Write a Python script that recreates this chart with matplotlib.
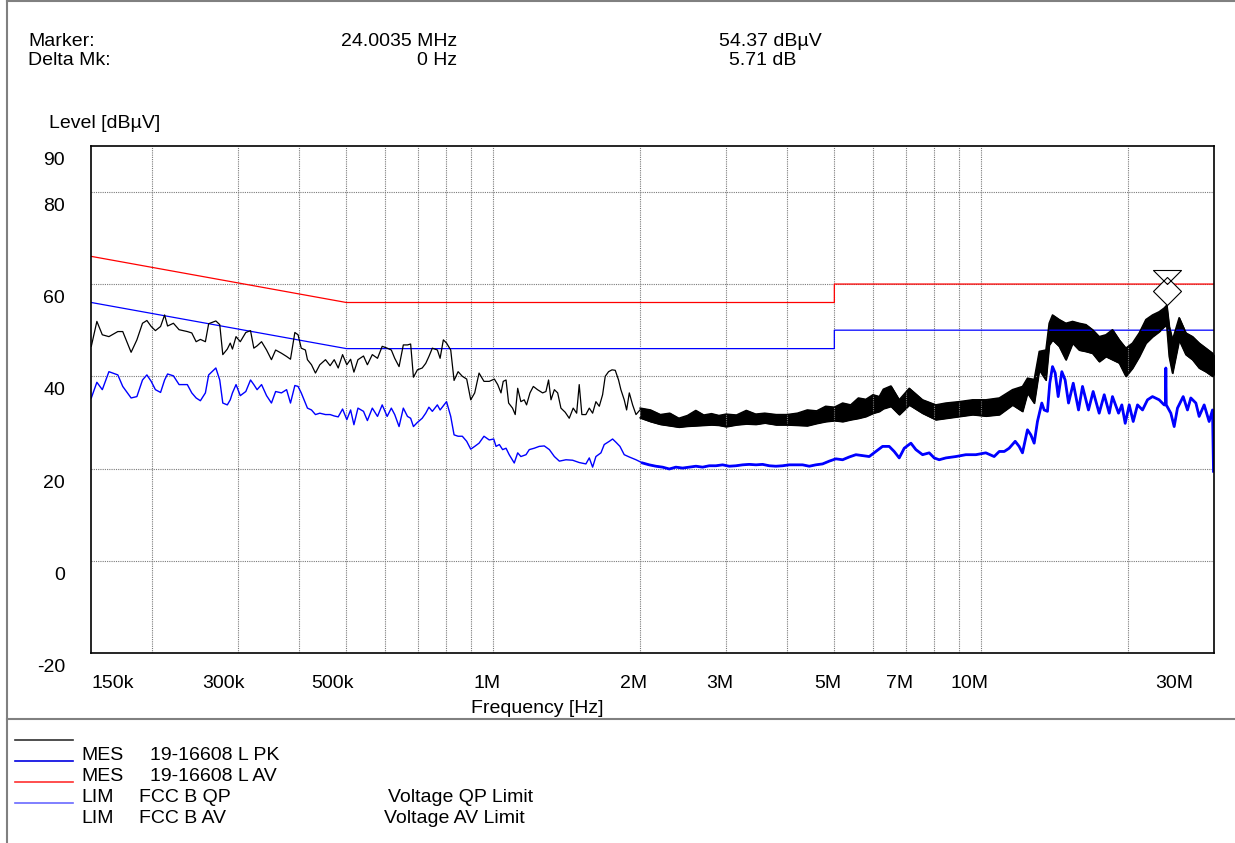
import matplotlib
matplotlib.use('Agg')
import matplotlib.pyplot as plt
from matplotlib.path import Path
from matplotlib.lines import Line2D
from matplotlib.ticker import NullLocator
from matplotlib.transforms import ScaledTranslation, blended_transform_factory

plt.rcParams['font.family'] = ['Liberation Sans', 'DejaVu Sans']
plt.rcParams['font.size'] = 14

# ---- data (frequency in MHz, level in dBuV) ----
marker_freq = 24.0035
marker_level = 54.37
marker_peak = 55.4
delta_hz = 0
delta_db = 5.71

qp_f = [0.15, 0.5, 5, 5, 30]
qp_lim = [66, 56, 56, 60, 60]
av_f = [0.15, 0.5, 5, 5, 30]
av_lim = [56, 46, 46, 50, 50]

# peak trace, sparse part (150 kHz - 2 MHz)
pk_f = [0.150, 0.154, 0.158, 0.163, 0.170, 0.174, 0.181, 0.186, 0.191, 0.195,
        0.199, 0.203, 0.208, 0.212, 0.215, 0.221, 0.227, 0.236, 0.241, 0.246,
        0.251, 0.257, 0.261, 0.270, 0.275, 0.279, 0.285, 0.289, 0.292, 0.297,
        0.303, 0.311, 0.318, 0.323, 0.328, 0.335, 0.343, 0.351, 0.358, 0.368,
        0.377, 0.384, 0.392, 0.398, 0.404, 0.412, 0.416, 0.424, 0.432, 0.441,
        0.453, 0.463, 0.472, 0.481, 0.491, 0.501, 0.510, 0.518, 0.528, 0.542,
        0.552, 0.565, 0.579, 0.592, 0.606, 0.618, 0.628, 0.641, 0.654, 0.667,
        0.677, 0.686, 0.699, 0.715, 0.727, 0.738, 0.750, 0.768, 0.778, 0.790,
        0.802, 0.818, 0.831, 0.847, 0.864, 0.882, 0.899, 0.916, 0.935, 0.957,
        0.981, 1.005, 1.021, 1.037, 1.048, 1.062, 1.075, 1.095, 1.109, 1.122,
        1.139, 1.157, 1.170, 1.189, 1.208, 1.232, 1.262, 1.282, 1.298, 1.313,
        1.334, 1.355, 1.376, 1.404, 1.431, 1.458, 1.482, 1.500, 1.519, 1.548,
        1.573, 1.598, 1.623, 1.649, 1.675, 1.696, 1.723, 1.751, 1.778, 1.806,
        1.826, 1.855, 1.876, 1.900, 1.930, 1.961, 1.998]
pk = [46.5, 51.9, 49.0, 48.6, 49.7, 49.7, 45.2, 47.9, 51.5, 52.1,
      50.8, 49.9, 50.8, 53.3, 50.9, 51.5, 50.1, 49.7, 49.4, 47.5,
      48.0, 47.5, 51.4, 52.0, 51.2, 44.7, 45.9, 47.2, 45.9, 48.6,
      47.5, 49.5, 49.9, 46.1, 46.6, 47.5, 45.7, 43.6, 45.7, 45.0,
      44.3, 43.7, 49.5, 49.0, 46.1, 45.7, 43.6, 42.5, 40.7, 42.5,
      43.6, 42.3, 43.6, 41.8, 44.7, 42.5, 43.7, 40.9, 43.6, 44.4,
      42.5, 44.7, 43.9, 46.5, 46.1, 45.7, 43.9, 42.1, 46.8, 46.8,
      47.0, 39.8, 41.4, 41.8, 42.8, 44.3, 46.1, 45.7, 43.9, 47.9,
      47.2, 45.7, 39.1, 41.0, 40.0, 39.4, 34.9, 36.4, 40.7, 38.9,
      38.9, 39.4, 38.2, 36.4, 38.9, 39.2, 34.2, 33.1, 31.7, 37.4,
      34.5, 34.9, 33.8, 36.4, 37.8, 37.1, 36.4, 36.7, 39.2, 34.9,
      37.1, 36.4, 33.1, 32.2, 30.9, 33.1, 32.0, 38.2, 31.7, 31.7,
      33.1, 32.0, 34.5, 33.5, 36.0, 40.0, 41.0, 41.4, 41.3, 39.2,
      37.1, 34.9, 32.7, 36.4, 33.8, 31.7, 32.7]

# peak trace, dense part (2 - 30 MHz): lower / upper edge of the noise band
band_f = [2.0, 2.1, 2.2, 2.3, 2.4, 2.5, 2.6, 2.7, 2.8, 2.9,
          3.0, 3.15, 3.3, 3.45, 3.6, 3.8, 4.0, 4.2, 4.4, 4.6,
          4.8, 5.0, 5.2, 5.4, 5.6, 5.8, 6.0, 6.18, 6.3, 6.53,
          6.79, 7.12, 7.58, 8.07, 8.46, 9.01, 9.60, 10.22, 10.89, 11.59,
          12.15, 12.44, 12.84, 13.15, 13.57, 13.78, 14.00, 14.45, 14.91, 15.39,
          15.88, 16.39, 16.91, 17.45, 18.01, 18.58, 19.18, 19.79, 20.42, 21.08,
          21.75, 22.44, 23.16, 23.71, 24.00, 24.28, 24.66, 25.45, 26.27, 27.11,
          27.97, 28.87, 29.79, 30.0]
band_hi = [33.1, 32.7, 31.7, 32.0, 30.9, 31.5, 32.6, 31.6, 31.9, 31.5,
           31.8, 31.6, 32.6, 31.8, 32.0, 31.7, 31.7, 32.0, 32.7, 32.5,
           33.5, 33.3, 34.2, 33.8, 35.3, 35.0, 36.0, 35.6, 37.2, 37.9,
           34.9, 37.4, 34.9, 33.8, 34.2, 34.5, 34.9, 34.9, 35.3, 37.1,
           37.8, 39.6, 39.3, 45.4, 45.7, 51.5, 53.3, 52.3, 51.5, 51.9,
           51.5, 51.2, 50.1, 48.6, 49.0, 50.1, 47.9, 46.1, 47.2, 49.4,
           52.3, 53.3, 54.0, 54.8, 55.4, 50.8, 47.9, 52.7, 49.4, 48.6,
           47.2, 46.1, 45.0, 44.5]
band_lo = [31.0, 30.2, 29.6, 29.3, 29.0, 29.2, 29.3, 29.4, 29.5, 29.4,
           29.1, 29.5, 29.7, 29.6, 29.9, 29.5, 29.5, 29.4, 29.3, 29.8,
           30.2, 30.4, 30.2, 30.6, 30.9, 31.3, 32.0, 32.4, 33.0, 33.5,
           31.7, 33.8, 32.0, 30.6, 30.9, 31.3, 31.7, 31.4, 31.7, 33.8,
           32.4, 36.4, 34.2, 41.4, 39.2, 46.8, 47.9, 46.5, 43.6, 47.2,
           45.7, 45.4, 45.0, 43.2, 44.3, 43.6, 42.9, 40.0, 41.8, 44.3,
           47.2, 48.6, 49.7, 50.8, 51.0, 44.3, 40.7, 47.9, 44.7, 43.6,
           41.8, 41.0, 40.0, 40.5]

# average trace
avg_f = [0.150, 0.154, 0.158, 0.163, 0.170, 0.174, 0.181, 0.186, 0.191, 0.195,
         0.199, 0.203, 0.208, 0.212, 0.215, 0.221, 0.227, 0.236, 0.241, 0.246,
         0.251, 0.257, 0.261, 0.270, 0.275, 0.279, 0.285, 0.289, 0.292, 0.297,
         0.303, 0.311, 0.318, 0.323, 0.328, 0.335, 0.343, 0.351, 0.358, 0.368,
         0.377, 0.384, 0.392, 0.398, 0.404, 0.412, 0.416, 0.424, 0.432, 0.441,
         0.453, 0.463, 0.472, 0.481, 0.491, 0.501, 0.510, 0.518, 0.528, 0.542,
         0.552, 0.565, 0.579, 0.592, 0.606, 0.618, 0.628, 0.641, 0.654, 0.667,
         0.677, 0.686, 0.699, 0.715, 0.727, 0.738, 0.750, 0.768, 0.778, 0.790,
         0.802, 0.818, 0.831, 0.847, 0.864, 0.882, 0.899, 0.916, 0.935, 0.957,
         0.981, 1.002, 1.013, 1.029, 1.045, 1.062, 1.078, 1.104, 1.122, 1.139,
         1.167, 1.185, 1.213, 1.242, 1.272, 1.303, 1.334, 1.366, 1.409, 1.454,
         1.500, 1.548, 1.573, 1.598, 1.623, 1.662, 1.688, 1.729, 1.756, 1.784,
         1.818, 1.855, 1.900, 1.961, 2.023, 2.087, 2.154, 2.223, 2.295, 2.367,
         2.443, 2.521, 2.602, 2.685, 2.771, 2.860, 2.951, 3.045, 3.143, 3.243,
         3.346, 3.454, 3.564, 3.678, 3.795, 3.917, 4.042, 4.171, 4.304, 4.442,
         4.583, 4.730, 4.881, 5.037, 5.198, 5.364, 5.536, 5.713, 5.895, 6.083,
         6.278, 6.477, 6.632, 6.792, 6.954, 7.176, 7.347, 7.582, 7.824, 8.011,
         8.201, 8.464, 8.874, 9.302, 9.752, 10.22, 10.63, 10.89, 11.15, 11.41,
         11.74, 11.96, 12.15, 12.44, 12.64, 12.84, 13.04, 13.31, 13.46, 13.67,
         13.82, 14.00, 14.18, 14.38, 14.63, 14.86, 15.10, 15.44, 15.83, 16.13,
         16.59, 16.96, 17.45, 17.87, 18.30, 18.58, 19.12, 19.42, 19.73, 20.11,
         20.49, 20.91, 21.41, 21.92, 22.44, 23.16, 23.71, 23.85, 23.90, 23.95,
         24.47, 24.86, 25.25, 25.94, 26.47, 26.89, 27.54, 27.97, 28.64, 29.32,
         29.79, 29.93]
avg = [35.3, 38.7, 37.1, 41.0, 40.3, 37.8, 35.3, 35.6, 39.2, 40.3,
       38.9, 37.1, 36.5, 39.2, 40.5, 40.1, 38.2, 38.2, 36.4, 35.3,
       34.7, 36.4, 40.3, 41.8, 39.2, 34.2, 33.8, 34.9, 36.4, 38.2,
       35.8, 36.7, 39.2, 38.2, 37.1, 38.2, 35.8, 34.2, 36.7, 36.4,
       37.1, 34.2, 38.0, 37.8, 36.4, 34.2, 33.1, 32.7, 31.7, 32.0,
       31.7, 31.7, 31.4, 31.2, 32.9, 30.6, 32.7, 29.5, 33.1, 32.4,
       30.4, 33.1, 31.3, 33.8, 31.3, 33.1, 31.7, 29.1, 33.1, 31.3,
       30.9, 29.1, 30.0, 30.9, 32.0, 33.3, 32.4, 33.8, 32.7, 33.6,
       34.5, 31.3, 27.3, 27.0, 27.0, 25.9, 24.2, 24.8, 25.5, 27.0,
       26.2, 26.4, 24.8, 25.2, 24.1, 24.4, 23.0, 21.2, 23.4, 22.6,
       23.0, 24.1, 24.4, 24.8, 24.9, 24.1, 22.6, 21.6, 21.9, 21.8,
       21.3, 21.0, 22.3, 20.3, 22.6, 23.4, 25.2, 25.9, 26.4, 25.7,
       24.8, 23.0, 22.5, 21.9, 21.2, 20.8, 20.5, 20.3, 19.9, 20.3,
       20.1, 20.3, 20.5, 20.3, 20.6, 20.6, 20.8, 20.5, 20.6, 20.8,
       20.9, 20.8, 20.9, 20.6, 20.5, 20.6, 20.8, 20.8, 20.8, 20.5,
       20.8, 21.0, 21.6, 22.1, 21.9, 22.5, 23.0, 22.8, 22.6, 23.7,
       24.8, 24.8, 23.7, 22.3, 24.4, 25.5, 24.1, 23.0, 23.4, 22.3,
       21.9, 22.3, 22.6, 23.0, 23.0, 23.4, 22.6, 23.7, 23.7, 24.4,
       25.9, 24.8, 23.4, 28.4, 27.3, 25.5, 30.2, 34.2, 32.7, 32.4,
       38.5, 42.1, 40.7, 35.6, 41.0, 39.2, 34.2, 38.5, 32.7, 37.8,
       32.7, 36.7, 32.0, 36.0, 32.0, 35.6, 32.0, 33.8, 29.8, 33.8,
       30.2, 33.8, 32.7, 34.9, 35.6, 34.9, 33.8, 33.8, 41.8, 33.8,
       32.0, 29.1, 33.1, 35.6, 32.7, 35.3, 34.2, 31.3, 33.8, 30.2,
       32.7, 19.4]

grid_f = [0.2, 0.3, 0.4, 0.5, 0.6, 0.7, 0.8, 0.9, 1, 2, 3, 4, 5, 6, 7, 8, 9, 10, 20]
x_tick_f = [0.15, 0.3, 0.5, 1, 2, 3, 5, 7, 10, 30]
x_tick_lbl = ['150k', '300k', '500k', '1M', '2M', '3M', '5M', '7M', '10M', '30M']
y_tick_v = [90, 80, 60, 40, 20, 0, -20]

legend_rows = [('MES', '19-16608 L PK', ''),
               ('MES', '19-16608 L AV', ''),
               ('LIM', 'FCC B QP', 'Voltage QP Limit'),
               ('LIM', 'FCC B AV', 'Voltage AV Limit')]
legend_colors = ['#303030', '#0000e0', '#ff3030', '#6a6aff']

# ---- figure ----
W, H = 1235, 843
fig = plt.figure(figsize=(W / 100, H / 100), dpi=100)


def fx(px):
    return px / W


def fy(py):
    return 1 - py / H


def px_off(dx, dy):
    return ScaledTranslation(dx / 100, dy / 100, fig.dpi_scale_trans)


ax = fig.add_axes([fx(91.3), fy(653), (1214 - 91.3) / W, (653 - 145.7) / H])
ax.set_xscale('log')
ax.set_xlim(0.15, 30)
ax.set_ylim(-20, 90)
ax.set_xticks(grid_f)
ax.xaxis.set_minor_locator(NullLocator())
ax.set_yticks([0, 20, 40, 60, 80])
ax.tick_params(length=0, labelbottom=False, labelleft=False)
ax.grid(True, color='#7a7a7a', lw=0.8, ls=(0, (1, 1)))
for s in ax.spines.values():
    s.set_linewidth(1.2)

ax.plot(qp_f, qp_lim, color='#ff0000', lw=0.9)
ax.plot(av_f, av_lim, color='#0000ff', lw=0.9)
ax.plot(pk_f, pk, color='black', lw=0.9)
ax.fill_between(band_f, band_lo, band_hi, color='black', lw=0.9)
ax.plot(band_f, band_hi, color='black', lw=1.1)
ax.plot(band_f, band_lo, color='black', lw=1.1)

# average trace: thin below 2 MHz, thicker noisy band above
split = next(i for i, f in enumerate(avg_f) if f >= 2.0)
ax.plot(avg_f, avg, color='#0000ff', lw=1.0)
ax.plot(avg_f[split:], avg[split:], color='#0000ff', lw=2.0)

# marker: diamond with tip on the trace, open triangle above it
mk_path = Path([(0, 0), (14, 14), (0, 28), (-14, 14), (0, 0),
                (-14, 35), (14, 35), (0, 21), (-14, 35)],
               [Path.MOVETO, Path.LINETO, Path.LINETO, Path.LINETO, Path.CLOSEPOLY,
                Path.MOVETO, Path.LINETO, Path.LINETO, Path.CLOSEPOLY])
ax.plot([marker_freq], [marker_peak], marker=mk_path, markersize=50.4,
        markerfacecolor='white', markeredgecolor='black', markeredgewidth=0.8,
        ls='none', zorder=5, clip_on=False)

# tick labels
bt = blended_transform_factory(ax.transData, ax.transAxes)
for f, lbl in zip(x_tick_f, x_tick_lbl):
    if lbl == '150k':
        ha, dx = 'left', 0
    elif lbl == '30M':
        ha, dx = 'right', -21
    else:
        ha, dx = 'right', 7
    ax.text(f, 0, lbl, transform=bt + px_off(dx, -35), ha=ha, va='baseline')

lt = blended_transform_factory(fig.transFigure, ax.transData)
for v in y_tick_v:
    fig.text(fx(65), v, str(v), transform=lt + px_off(0, -19), ha='right', va='baseline')

fig.text(fx(49), fy(128), 'Level [dBµV]', ha='left', va='baseline')
fig.text(fx(537), fy(713), 'Frequency [Hz]', ha='center', va='baseline')

# header
fig.text(fx(28), fy(46), 'Marker:', ha='left', va='baseline')
fig.text(fx(28), fy(65), 'Delta Mk:', ha='left', va='baseline')
fig.text(fx(457), fy(46), f'{marker_freq:.4f} MHz', ha='right', va='baseline')
fig.text(fx(457), fy(65), f'{delta_hz} Hz', ha='right', va='baseline')
fig.text(fx(719), fy(46), f'{marker_level:.2f} dBµV', ha='left', va='baseline')
fig.text(fx(729), fy(65), f'{delta_db:.2f} dB', ha='left', va='baseline')

# legend block
for i, ((kind, name, desc), col) in enumerate(zip(legend_rows, legend_colors)):
    ly = 740 + 21 * i
    fig.add_artist(Line2D([fx(15), fx(73)], [fy(ly), fy(ly)], color=col, lw=1.2))
    base = fy(ly + 20)
    fig.text(fx(81), base, kind, ha='left', va='baseline')
    fig.text(fx(150) if kind == 'MES' else fx(139), base, name, ha='left', va='baseline')
    if desc:
        fig.text(fx(388) if 'QP' in desc else fx(384), base, desc, ha='left', va='baseline')

# page frame
frame = '#808080'
fig.add_artist(Line2D([fx(7), fx(7)], [0, 1], color=frame, lw=1.5))
fig.add_artist(Line2D([fx(7), 1], [fy(1), fy(1)], color=frame, lw=1.5))
fig.add_artist(Line2D([fx(7), 1], [fy(719), fy(719)], color=frame, lw=1.5))

fig.savefig('out.png', dpi=100)
